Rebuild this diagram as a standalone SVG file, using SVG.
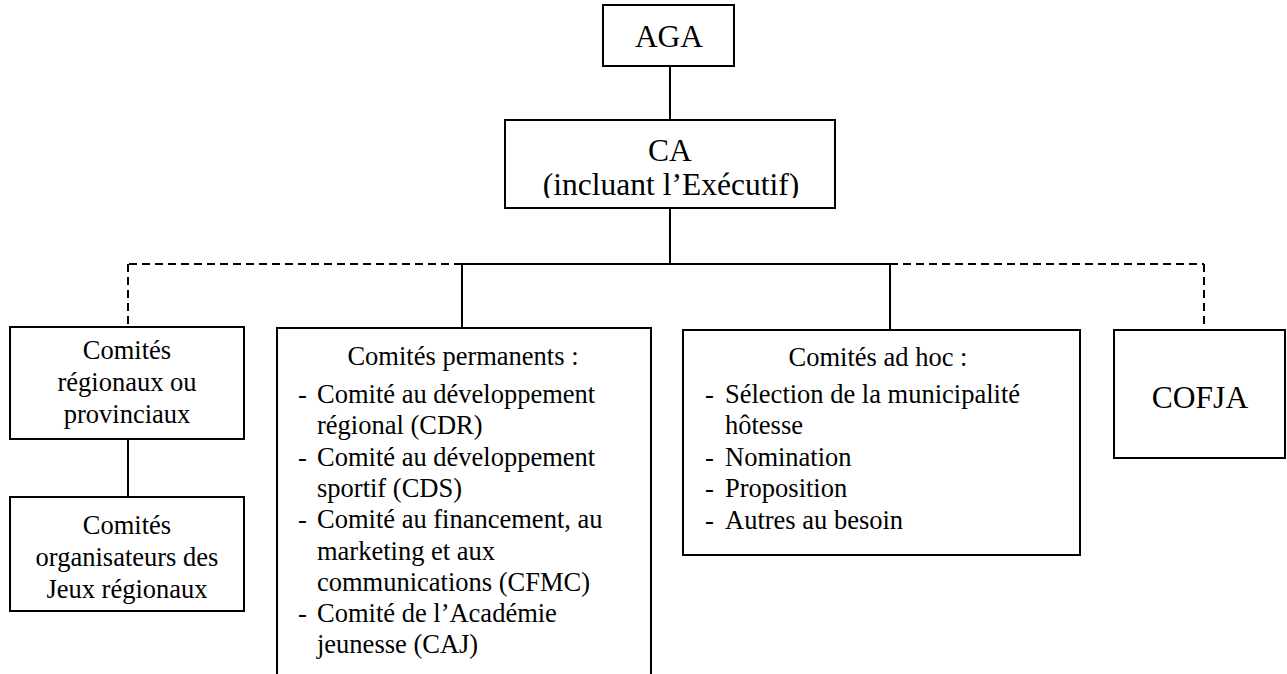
<svg xmlns="http://www.w3.org/2000/svg" width="1287" height="674" viewBox="0 0 1287 674">
<style>
.box{fill:#fff;stroke:#000;stroke-width:2}
.ln{fill:none;stroke:#000;stroke-width:2}
.dash{fill:none;stroke:#000;stroke-width:2;stroke-dasharray:8 5}
text{font-family:"Liberation Serif","Times New Roman",serif;fill:#000}
.big{font-size:31.5px}
.sm{font-size:26.5px}
.c{text-anchor:middle}
</style>
<defs>
<clipPath id="caclip"><rect x="505" y="120" width="330" height="78"/></clipPath>
</defs>
<rect width="1287" height="674" fill="#fff"/>
<g id="connectors">
<line class="ln" x1="670" y1="66" x2="670" y2="120"/>
<line class="ln" x1="670" y1="208" x2="670" y2="264"/>
<line class="ln" x1="462" y1="264" x2="890" y2="264"/>
<line class="dash" x1="462" y1="264" x2="128" y2="264"/>
<line class="dash" x1="128" y1="264" x2="128" y2="327"/>
<line class="dash" x1="890" y1="264" x2="1204" y2="264"/>
<line class="dash" x1="1204" y1="264" x2="1204" y2="330"/>
<line class="ln" x1="462" y1="264" x2="462" y2="328"/>
<line class="ln" x1="890" y1="264" x2="890" y2="330"/>
<line class="ln" x1="128" y1="439" x2="128" y2="497"/>
</g>
<g id="aga">
<rect class="box" x="603" y="5" width="131" height="61"/>
<text class="big c" x="669" y="47">AGA</text>
</g>
<g id="ca">
<rect class="box" x="505" y="120" width="330" height="88"/>
<g clip-path="url(#caclip)">
<text class="big c" x="670" y="161">CA</text>
<text class="big c" x="671" y="195">(incluant l’Exécutif)</text>
</g>
</g>
<g id="regionaux">
<rect class="box" x="10" y="327" width="234" height="112"/>
<text class="sm c" x="127" y="359">Comités</text>
<text class="sm c" x="127" y="391">régionaux ou</text>
<text class="sm c" x="127" y="423">provinciaux</text>
</g>
<g id="organisateurs">
<rect class="box" x="10" y="497" width="234" height="114"/>
<text class="sm c" x="127" y="534">Comités</text>
<text class="sm c" x="127" y="566">organisateurs des</text>
<text class="sm c" x="127" y="598">Jeux régionaux</text>
</g>
<g id="permanents">
<path class="ln" d="M277,690 V328 H651 V690"/>
<text class="sm c" x="463" y="365">Comités permanents :</text>
<g class="sm">
<text x="298" y="403">-</text><text x="317" y="403">Comité au développement</text>
<text x="317" y="434">régional (CDR)</text>
<text x="298" y="466">-</text><text x="317" y="466">Comité au développement</text>
<text x="317" y="497">sportif (CDS)</text>
<text x="298" y="528">-</text><text x="317" y="528">Comité au financement, au</text>
<text x="317" y="560">marketing et aux</text>
<text x="317" y="591">communications (CFMC)</text>
<text x="298" y="622">-</text><text x="317" y="622">Comité de l’Académie</text>
<text x="317" y="653">jeunesse (CAJ)</text>
</g>
</g>
<g id="adhoc">
<rect class="box" x="683" y="330" width="397" height="225"/>
<text class="sm c" x="878" y="366">Comités ad hoc :</text>
<g class="sm">
<text x="705" y="403">-</text><text x="725" y="403">Sélection de la municipalité</text>
<text x="725" y="434">hôtesse</text>
<text x="705" y="466">-</text><text x="725" y="466">Nomination</text>
<text x="705" y="497">-</text><text x="725" y="497">Proposition</text>
<text x="705" y="529">-</text><text x="725" y="529">Autres au besoin</text>
</g>
</g>
<g id="cofja">
<rect class="box" x="1114" y="330" width="171" height="128"/>
<text class="big c" x="1200" y="408">COFJA</text>
</g>
</svg>
